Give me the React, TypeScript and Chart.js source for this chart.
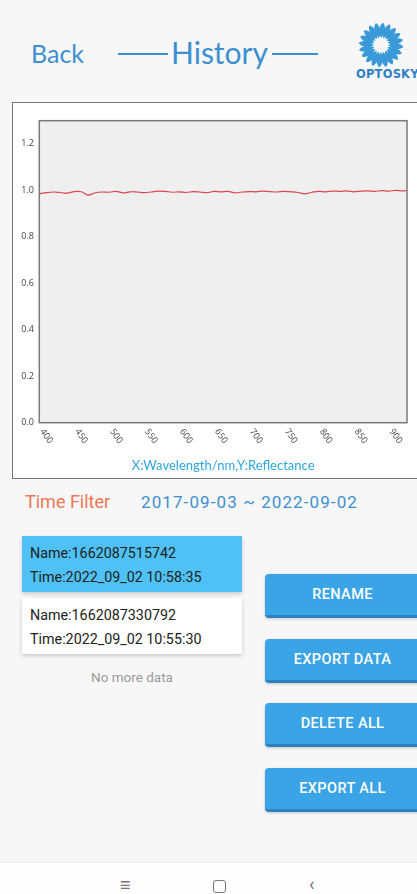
import React, { useEffect, useRef } from "react";
import { Chart, registerables } from "chart.js";

Chart.register(...registerables);

// ---- data ----
const wavelengths = [
  390, 400, 410, 420, 430, 440, 450, 460, 470, 480, 490, 500, 510, 520, 530, 540, 550,
  560, 570, 580, 590, 600, 610, 620, 630, 640, 650, 660, 670, 680, 690, 700, 710, 720,
  730, 740, 750, 760, 770, 780, 790, 800, 810, 820, 830, 840, 850, 860, 870, 880, 890,
  900, 910, 916,
];
const reflectance = [
  0.985, 0.99, 0.993, 0.991, 0.988, 0.995, 0.994, 0.98, 0.99, 0.993, 0.992, 0.996, 0.989,
  0.994, 0.993, 0.99, 0.993, 0.997, 0.996, 0.992, 0.994, 0.991, 0.995, 0.993, 0.99, 0.996,
  0.994, 0.996, 0.989, 0.993, 0.995, 0.994, 0.997, 0.995, 0.993, 0.996, 0.994, 0.991,
  0.985, 0.992, 0.996, 0.994, 0.997, 0.996, 0.998, 0.994, 0.997, 0.998, 0.996, 0.999,
  0.997, 1.0, 0.998, 1.0,
];
const xTickValues = [400, 450, 500, 550, 600, 650, 700, 750, 800, 850, 900];
const yTickValues = [0, 0.2, 0.4, 0.6, 0.8, 1.0, 1.2];
const xMin = 390;
const xMax = 916;
const yMin = 0;
const yMax = 1.3;
const axisTitle = "X:Wavelength/nm,Y:Reflectance";

const recordNames = ["1662087515742", "1662087330792"];
const recordTimes = ["2022_09_02 10:58:35", "2022_09_02 10:55:30"];
const buttonLabels = ["RENAME", "EXPORT DATA", "DELETE ALL", "EXPORT ALL"];
const buttonTops = [574, 639, 703, 768];
const filterRange = "2017-09-03 ~ 2022-09-02";

const BLUE = "#3d8fd0";

const plotFramePlugin = {
  id: "plotFrame",
  beforeDatasetsDraw(chart: any) {
    const { ctx, chartArea } = chart;
    ctx.save();
    ctx.fillStyle = "#efefef";
    ctx.fillRect(chartArea.left, chartArea.top, chartArea.right - chartArea.left, chartArea.bottom - chartArea.top);
    ctx.restore();
  },
  afterDatasetsDraw(chart: any) {
    const { ctx, chartArea } = chart;
    ctx.save();
    ctx.strokeStyle = "#7a7a7a";
    ctx.lineWidth = 1.5;
    ctx.strokeRect(chartArea.left, chartArea.top, chartArea.right - chartArea.left, chartArea.bottom - chartArea.top);
    // rotated x tick labels (clockwise)
    const xs = chart.scales.x;
    ctx.fillStyle = "#444";
    ctx.font = "9px 'Open Sans', sans-serif";
    ctx.textAlign = "center";
    ctx.textBaseline = "middle";
    for (const v of xTickValues) {
      const px = xs.getPixelForValue(v);
      ctx.save();
      ctx.translate(px, chartArea.bottom + 13.5);
      ctx.rotate((55 * Math.PI) / 180);
      ctx.fillText(String(v), 0, 0);
      ctx.restore();
    }
    ctx.restore();
  },
};

function SpectrumChart() {
  const ref = useRef<HTMLCanvasElement | null>(null);
  useEffect(() => {
    if (!ref.current) return;
    const chart = new Chart(ref.current, {
      type: "line",
      data: {
        datasets: [
          {
            data: wavelengths.map((x, i) => ({ x, y: reflectance[i] })),
            borderColor: "#d9474f",
            borderWidth: 1.2,
            pointRadius: 0,
            tension: 0.35,
            fill: false,
          },
        ],
      },
      options: {
        animation: false,
        responsive: false,
        maintainAspectRatio: false,
        layout: { padding: { left: 0, right: 10, top: 17.7, bottom: 0 } },
        plugins: { legend: { display: false }, tooltip: { enabled: false } },
        scales: {
          x: {
            type: "linear",
            min: xMin,
            max: xMax,
            grid: { display: false },
            border: { display: false },
            ticks: { display: false },
            afterFit: (s: any) => {
              s.height = 55.3;
            },
            title: {
              display: true,
              text: axisTitle,
              color: "#2aa7de",
              font: { size: 13, family: "Lato, sans-serif" },
              padding: { top: 0, bottom: 4.2 },
            },
          },
          y: {
            min: yMin,
            max: yMax,
            afterBuildTicks: (s: any) => {
              s.ticks = yTickValues.map((v) => ({ value: v }));
            },
            ticks: {
              callback: (v: any) => Number(v).toFixed(1),
              color: "#444",
              font: { size: 9, family: "'Open Sans', sans-serif" },
              padding: 5.3,
            },
            grid: { display: false, drawTicks: false },
            border: { display: false },
            afterFit: (s: any) => {
              s.width = 26.3;
            },
          },
        },
      } as any,
      plugins: [plotFramePlugin],
    });
    return () => chart.destroy();
  }, []);
  return <canvas ref={ref} width={404} height={375} style={{ position: "absolute", left: 0, top: 0, width: 404, height: 375 }} />;
}

function Logo() {
  const petals = [];
  for (let i = 0; i < 20; i++) {
    petals.push(
      <path
        key={i}
        d="M0,-7 C4.5,-12 5.5,-18 2,-22.5 C-2,-20 -3,-13 0,-7 Z"
        fill="#3a9ad9"
        transform={`rotate(${i * 18})`}
      />
    );
  }
  return (
    <div style={{ position: "absolute", left: 352, top: 20, width: 80, height: 75 }}>
      <svg width="50" height="50" style={{ position: "absolute", left: 4, top: 0 }}>
        <g transform="translate(25,25)">{petals}</g>
      </svg>
      <div
        style={{
          position: "absolute",
          left: 4,
          top: 47,
          fontFamily: "'DejaVu Sans', sans-serif",
          fontWeight: 900,
          fontSize: 11.5,
          color: "#2f7fc4",
          letterSpacing: 0.2,
          whiteSpace: "nowrap",
        }}
      >
        OPTOSKY
      </div>
    </div>
  );
}

export default function App() {
  const abs = (l: number, t: number, extra: any = {}) => ({ position: "absolute" as const, left: l, top: t, ...extra });
  return (
    <div
      style={{
        position: "fixed",
        left: 0,
        top: 0,
        width: 417,
        height: 894,
        overflow: "hidden",
        background: "#f7f7f7",
        fontFamily: "Roboto, sans-serif",
      }}
    >
      {/* header */}
      <div style={abs(31, 36, { fontFamily: "Lato, sans-serif", fontSize: 25, color: BLUE, lineHeight: "34px" })}>Back</div>
      <div style={abs(118, 53, { width: 50, height: 1.5, background: BLUE })} />
      <div style={abs(171, 32, { fontFamily: "Lato, sans-serif", fontSize: 30, color: BLUE, lineHeight: "40px" })}>History</div>
      <div style={abs(272, 53, { width: 46, height: 1.5, background: BLUE })} />
      <Logo />

      {/* chart box */}
      <div
        style={abs(12, 102, {
          width: 420,
          height: 377,
          boxSizing: "border-box",
          border: "1px solid #777",
          background: "#ffffff",
        })}
      >
        <SpectrumChart />
      </div>

      {/* time filter */}
      <div style={abs(25, 490, { fontSize: 18, color: "#ee7755", lineHeight: "24px" })}>Time Filter</div>
      <div style={abs(141, 490, { fontSize: 17, color: BLUE, lineHeight: "24px", letterSpacing: 1.1 })}>{filterRange}</div>

      {/* records */}
      {recordNames.map((n, i) => (
        <div
          key={n}
          style={abs(22, i === 0 ? 536 : 598, {
            width: 220,
            height: 56,
            background: i === 0 ? "#4fc1f5" : "#ffffff",
            boxShadow: "0 2px 4px rgba(0,0,0,0.18)",
            color: "#222",
            fontSize: 14.3,
          })}
        >
          <div style={abs(8, 5, { lineHeight: "24px", whiteSpace: "nowrap" })}>Name:{n}</div>
          <div style={abs(8, 29, { lineHeight: "24px", whiteSpace: "nowrap" })}>Time:{recordTimes[i]}</div>
        </div>
      ))}
      <div style={abs(22, 668, { width: 220, textAlign: "center", fontSize: 13.5, color: "#9a9a9a", lineHeight: "18px" })}>
        No more data
      </div>

      {/* buttons */}
      {buttonLabels.map((b, i) => (
        <div
          key={b}
          style={abs(265, buttonTops[i], {
            width: 160,
            height: 44,
            boxSizing: "border-box",
            background: "#3ba4e6",
            borderBottom: "3px solid #2b82bf",
            borderRadius: 4,
            boxShadow: "0 1px 3px rgba(0,0,0,0.2)",
            color: "#fff",
            fontSize: 14.5,
            fontWeight: 500,
            letterSpacing: 0.4,
            lineHeight: "42px",
          })}
        >
          <div style={{ width: 155, textAlign: "center" }}>{b}</div>
        </div>
      ))}

      {/* nav bar */}
      <div style={abs(0, 862, { width: 417, height: 32, background: "#fdfdfd", borderTop: "1px solid #eeeeee" })}>
        <div style={abs(120, 12, { fontSize: 18, color: "#777", lineHeight: "20px" })}>≡</div>
        <div style={abs(213, 17, { width: 11, height: 11, border: "1.5px solid #777", borderRadius: 3 })} />
        <div style={abs(309, 11, { fontSize: 18, color: "#777", lineHeight: "20px" })}>‹</div>
      </div>
    </div>
  );
}
